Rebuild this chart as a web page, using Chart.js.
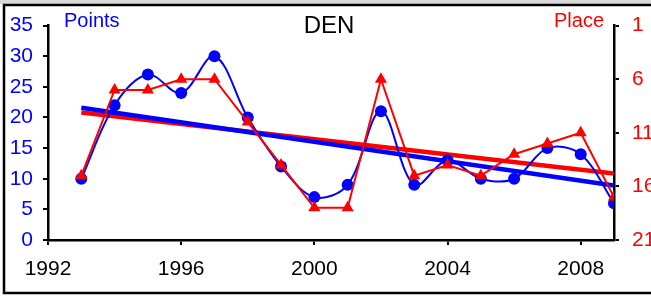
<!DOCTYPE html>
<html>
<head>
<meta charset="utf-8">
<script src="https://cdn.jsdelivr.net/npm/chart.js@4"></script>
<style>
  html, body { margin: 0; padding: 0; background: #fff; }
  #wrap { width: 651px; height: 296px; position: relative; }
</style>
</head>
<body>
<div id="wrap"><canvas id="denChart" width="651" height="296"></canvas></div>
<script>
// data
const years = [1993, 1994, 1995, 1996, 1997, 1998, 1999, 2000, 2001, 2002, 2003, 2004, 2005, 2006, 2007, 2008, 2009];
const points = [10, 22, 27, 24, 30, 20, 12, 7, 9, 21, 9, 13, 10, 10, 15, 14, 6];
const place = [15, 7, 7, 6, 6, 10, 14, 18, 18, 6, 15, 14, 15, 13, 12, 11, 17];
const trendYears = [1993, 2009];
const pointsTrend = [21.6, 8.9];
const placeTrend = [9.1, 14.8];
const xTicks = [1992, 1996, 2000, 2004, 2008];
const leftTicks = [0, 5, 10, 15, 20, 25, 30, 35];
const rightTicks = [1, 6, 11, 16, 21];

const BLUE = "#0000ff";
const RED = "#ff0000";
const FONT = "'Liberation Sans', Arial, sans-serif";

const pairs = (xs, ys) => xs.map((x, i) => ({ x: x, y: ys[i] }));

// frame + the three labels drawn on the canvas
const decorations = {
  id: "decorations",
  beforeDraw(chart) {
    const c = chart.ctx;
    c.save();
    c.fillStyle = "#fff";
    c.fillRect(0, 0, chart.width, chart.height);
    c.fillStyle = "#d9d9d9";
    c.fillRect(0, 0, chart.width, 4);
    c.strokeStyle = "#000";
    c.lineWidth = 2.5;
    c.strokeRect(4, 5, 660, 288);
    c.restore();
  },
  afterDraw(chart) {
    const c = chart.ctx;
    c.save();
    c.textBaseline = "alphabetic";
    c.font = "24px " + FONT;
    c.fillStyle = "#000";
    c.textAlign = "center";
    c.fillText("DEN", 329, 33);
    c.font = "20px " + FONT;
    c.fillStyle = BLUE;
    c.textAlign = "left";
    c.fillText("Points", 64, 27);
    c.fillStyle = RED;
    c.textAlign = "right";
    c.fillText("Place", 604, 27);
    c.restore();
  }
};

const ctx = document.getElementById("denChart").getContext("2d");

const denChart = new Chart(ctx, {
  type: "line",
  data: {
    datasets: [
      {
        label: "Points trend",
        data: pairs(trendYears, pointsTrend),
        yAxisID: "y",
        borderColor: BLUE,
        borderWidth: 4.5,
        pointRadius: 0,
        order: 3
      },
      {
        label: "Place trend",
        data: pairs(trendYears, placeTrend),
        yAxisID: "y2",
        borderColor: RED,
        borderWidth: 4.5,
        pointRadius: 0,
        order: 4
      },
      {
        label: "Points",
        data: pairs(years, points),
        yAxisID: "y",
        borderColor: BLUE,
        backgroundColor: BLUE,
        borderWidth: 2,
        tension: 0.35,
        pointStyle: "circle",
        pointRadius: 6,
        pointBorderWidth: 0,
        order: 2
      },
      {
        label: "Place",
        data: pairs(years, place),
        yAxisID: "y2",
        borderColor: RED,
        backgroundColor: RED,
        borderWidth: 2,
        tension: 0,
        pointStyle: "triangle",
        pointRadius: 7,
        pointBorderWidth: 0,
        order: 1
      }
    ]
  },
  options: {
    responsive: false,
    animation: false,
    layout: { padding: { top: 25, left: 0, right: 0, bottom: 0 } },
    plugins: {
      legend: { display: false },
      tooltip: { enabled: false }
    },
    scales: {
      x: {
        type: "linear",
        min: 1992,
        max: 2009,
        afterBuildTicks: s => { s.ticks = xTicks.map(v => ({ value: v })); },
        afterFit: s => { s.height = 56; },
        border: { display: true, color: "#000", width: 2.5 },
        grid: { drawOnChartArea: false, drawTicks: true, tickLength: 5, color: "#000", lineWidth: 2 },
        ticks: {
          color: "#000",
          font: { family: FONT, size: 21 },
          padding: 12,
          maxRotation: 0,
          callback: v => String(v)
        }
      },
      y: {
        position: "left",
        min: 0,
        max: 35,
        afterBuildTicks: s => { s.ticks = leftTicks.map(v => ({ value: v })); },
        afterFit: s => { s.width = 48; },
        border: { display: true, color: "#000", width: 2.5 },
        grid: { drawOnChartArea: false, drawTicks: true, tickLength: 5, color: "#000", lineWidth: 2 },
        ticks: {
          color: BLUE,
          font: { family: FONT, size: 21 },
          padding: 10
        }
      },
      y2: {
        position: "right",
        reverse: true,
        min: 1,
        max: 21,
        afterBuildTicks: s => { s.ticks = rightTicks.map(v => ({ value: v })); },
        afterFit: s => { s.width = 37; },
        border: { display: true, color: "#000", width: 2.5 },
        grid: { drawOnChartArea: false, drawTicks: true, tickLength: 5, color: "#000", lineWidth: 2 },
        ticks: {
          color: RED,
          font: { family: FONT, size: 21 },
          padding: 13
        }
      }
    }
  },
  plugins: [decorations]
});
</script>
</body>
</html>
